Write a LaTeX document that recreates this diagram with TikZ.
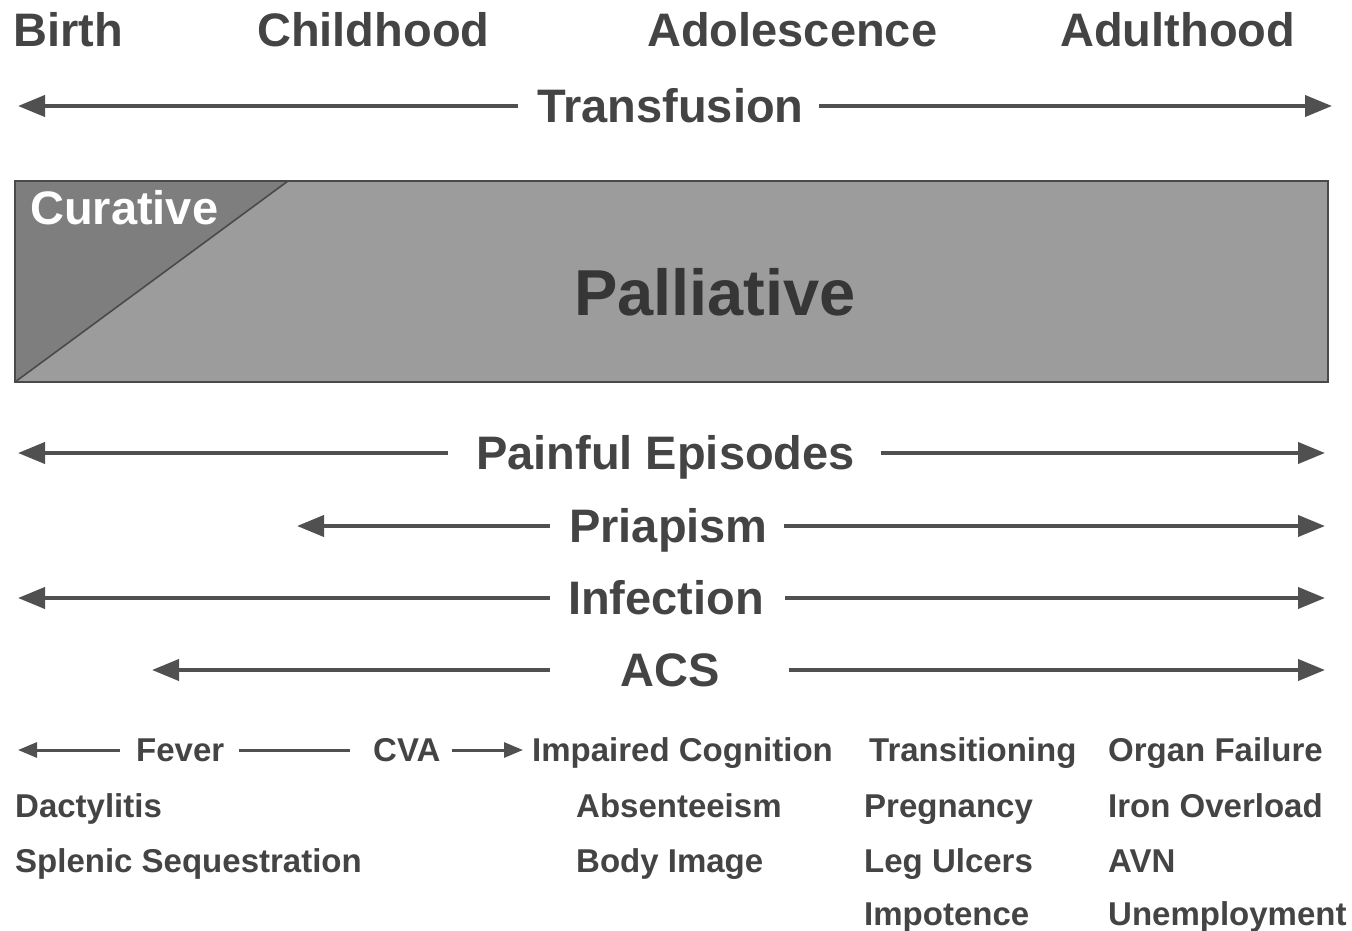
\documentclass[tikz,border=0pt]{standalone}
\usepackage{fontspec}
\setmainfont{Liberation Sans}
\usetikzlibrary{arrows.meta}
\definecolor{txt}{HTML}{444444}
\definecolor{arrc}{HTML}{505050}
\definecolor{palfill}{HTML}{9C9C9C}
\definecolor{curfill}{HTML}{7E7E7E}
\definecolor{boxline}{HTML}{4A4A4A}
\definecolor{paltxt}{HTML}{363636}
\begin{document}
\begin{tikzpicture}[x=1pt,y=-1pt,
  big/.style={font=\fontsize{47}{50}\selectfont\bfseries, text=txt, inner sep=0pt, anchor=west, text height=33.6pt, text depth=0pt},
  small/.style={font=\fontsize{33}{36}\selectfont\bfseries, text=txt, inner sep=0pt, anchor=west, text height=23.6pt, text depth=0pt},
  arr/.style={draw=arrc, line width=4pt, -{Triangle[length=27pt,width=21pt]}},
  sarr/.style={draw=arrc, line width=3pt, -{Triangle[length=19pt,width=15pt]}},
  sline/.style={draw=arrc, line width=3pt}
]
\useasboundingbox (0,0) rectangle (1352,931);
% stage headings
\node[big] (birth) at (13,30) {Birth};
\node[big] (child) at (257,30) {Childhood};
\node[big] (adol) at (647,30) {Adolescence};
\node[big] (adult) at (1060,30) {Adulthood};
% transfusion
\node[big] (transf) at (537,106) {Transfusion};
\coordinate (trL) at (18,106);
\coordinate (trR) at (1332,106);
\draw[arr] ([xshift=-19pt]transf.west) -- (trL);
\draw[arr] ([xshift=15pt]transf.east) -- (trR);
% box
\fill[palfill] (15,181) rectangle (1328,382);
\fill[curfill] (15,181) -- (288,181) -- (15,382) -- cycle;
\draw[boxline, line width=1.6pt] (288,181) -- (15,382);
\draw[boxline, line width=2pt] (15,181) rectangle (1328,382);
\node[big, text=white] (cur) at (30,208) {Curative};
\node[font=\fontsize{65}{70}\selectfont\bfseries, text=paltxt, inner sep=0pt, text height=46.5pt, text depth=0pt] (pal) at (715,292) {Palliative};
% complications
\node[big] (pain) at (476,453) {Painful Episodes};
\coordinate (paL) at (18,453); \coordinate (paR) at (1325,453);
\draw[arr] ([xshift=-28pt]pain.west) -- (paL);
\draw[arr] ([xshift=26pt]pain.east) -- (paR);
\node[big] (pria) at (569,526) {Priapism};
\coordinate (prL) at (297,526); \coordinate (prR) at (1325,526);
\draw[arr] ([xshift=-19pt]pria.west) -- (prL);
\draw[arr] ([xshift=16pt]pria.east) -- (prR);
\node[big] (inf) at (568,598) {Infection};
\coordinate (inL) at (18,598); \coordinate (inR) at (1325,598);
\draw[arr] ([xshift=-18pt]inf.west) -- (inL);
\draw[arr] ([xshift=21pt]inf.east) -- (inR);
\node[big] (acs) at (620,670) {ACS};
\coordinate (acL) at (152,670); \coordinate (acR) at (1325,670);
\draw[arr] ([xshift=-70pt]acs.west) -- (acL);
\draw[arr] ([xshift=69pt]acs.east) -- (acR);
% bottom rows
\node[small] (fever) at (136,750) {Fever};
\node[small] (cva) at (373,750) {CVA};
\node[small] (impc) at (532,750) {Impaired Cognition};
\node[small] (trans) at (869,750) {Transitioning};
\node[small] (organ) at (1108,750) {Organ Failure};
\coordinate (feL) at (18,750);
\draw[sarr] ([xshift=-16pt]fever.west) -- (feL);
\draw[sline] ([xshift=15pt]fever.east) -- ([xshift=-23pt]cva.west);
\draw[sarr] ([xshift=11pt]cva.east) -- ([xshift=-9pt]impc.west);
\node[small] (dact) at (15,806) {Dactylitis};
\node[small] (abs) at (576,806) {Absenteeism};
\node[small] (preg) at (864,806) {Pregnancy};
\node[small] (iron) at (1108,806) {Iron Overload};
\node[small] (splen) at (15,861) {Splenic Sequestration};
\node[small] (body) at (576,861) {Body Image};
\node[small] (leg) at (864,861) {Leg Ulcers};
\node[small] (avn) at (1108,861) {AVN};
\node[small] (impo) at (864,914) {Impotence};
\node[small] (unemp) at (1108,914) {Unemployment};
\end{tikzpicture}
\end{document}
